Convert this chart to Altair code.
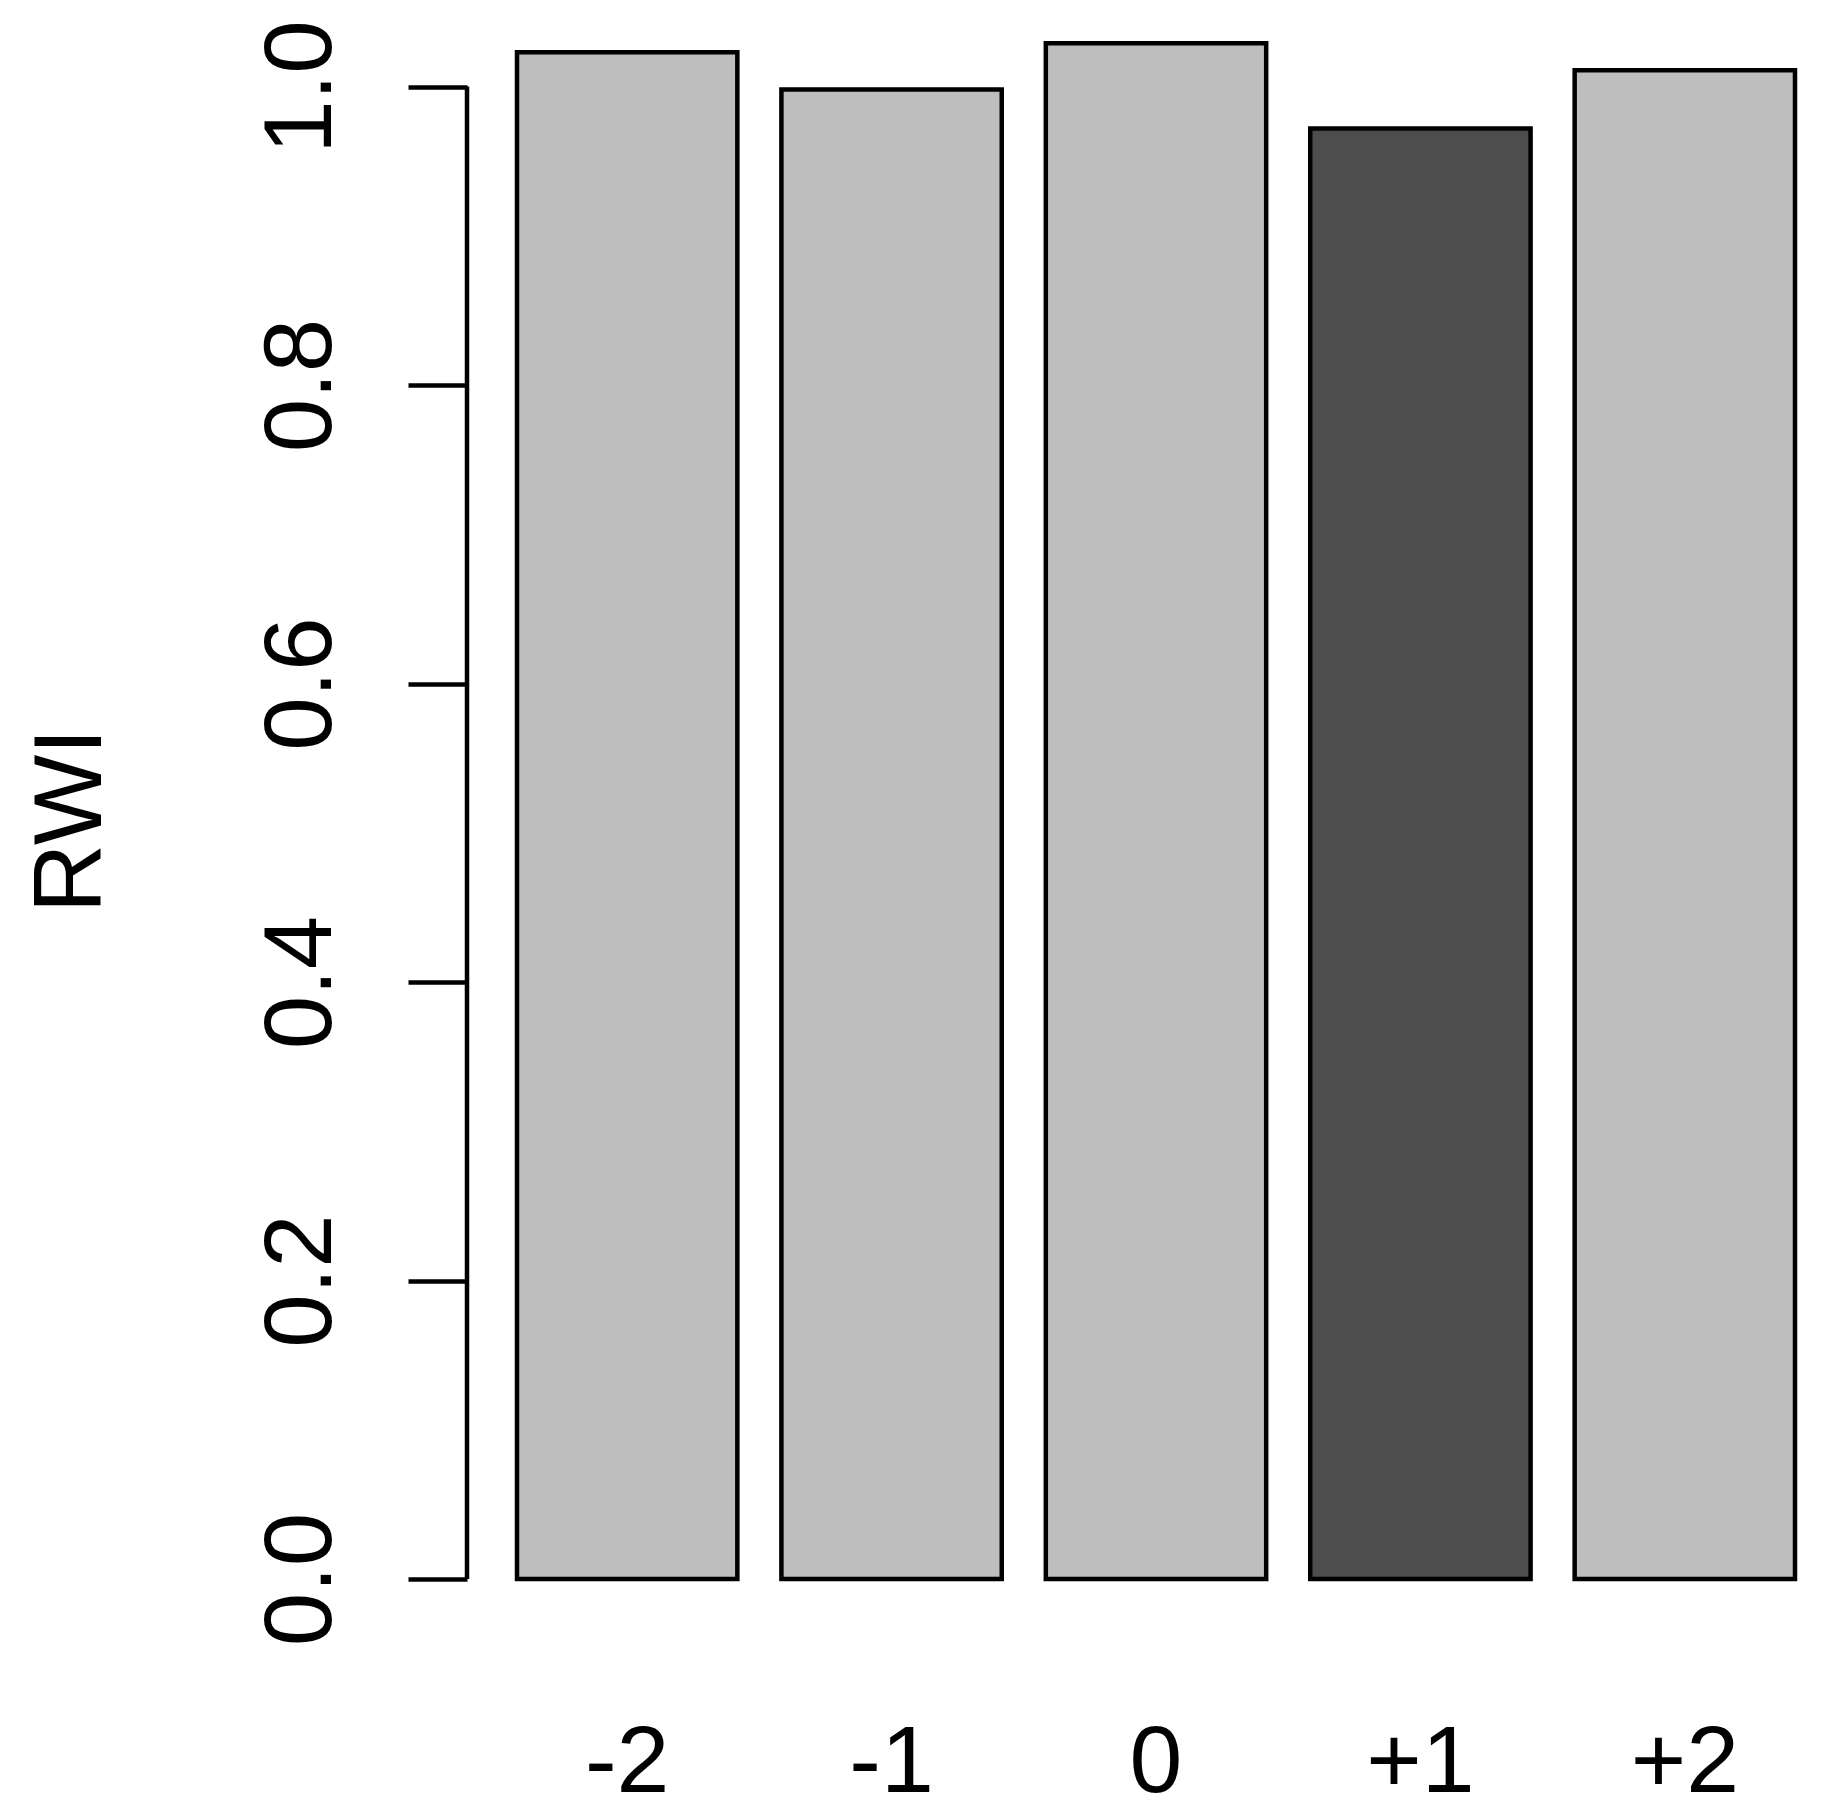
import altair as alt
import pandas as pd

# Data
lags = ["-2", "-1", "0", "+1", "+2"]
rwi = [1.023, 0.998, 1.029, 0.972, 1.011]
fills = ["#BEBEBE", "#BEBEBE", "#BEBEBE", "#4D4D4D", "#BEBEBE"]
y_ticks = [0.0, 0.2, 0.4, 0.6, 0.8, 1.0]

df = pd.DataFrame({"lag": lags, "rwi": rwi, "fill": fills})
axis_df = pd.DataFrame({"rwi": [0.0], "rwi2": [1.0]})

FONT = "Liberation Sans"
LW = 4.5

y_scale = alt.Scale(domain=[0, 1.05], nice=False, zero=True)

bars = alt.Chart(df).mark_bar(
    stroke="black", strokeWidth=LW, strokeJoin="miter"
).encode(
    x=alt.X(
        "lag:N",
        sort=lags,
        scale=alt.Scale(paddingInner=0.2 / 1.2, paddingOuter=0),
        axis=alt.Axis(
            title=None,
            domain=False,
            ticks=False,
            tickSize=0,
            labelAngle=0,
            labelFont=FONT,
            labelFontSize=95,
            labelColor="black",
            labelBaseline="alphabetic",
            labelPadding=212,
        ),
    ),
    y=alt.Y(
        "rwi:Q",
        scale=y_scale,
        axis=alt.Axis(
            values=y_ticks,
            format=".1f",
            domain=False,
            grid=False,
            offset=50,
            tickSize=59,
            tickWidth=LW,
            tickColor="black",
            labelAngle=270,
            labelAlign="center",
            labelBaseline="alphabetic",
            labelPadding=78,
            labelFont=FONT,
            labelFontSize=96,
            labelColor="black",
            labelFlush=False,
            labelOverlap=False,
            title="RWI",
            titleFont=FONT,
            titleFontSize=96,
            titleFontWeight="normal",
            titleColor="black",
            titleAngle=270,
            titleAlign="center",
            titleBaseline="alphabetic",
            titleX=-367,
            titleY=808,
        ),
    ),
    fill=alt.Fill("fill:N", scale=None),
)

axis_line = alt.Chart(axis_df).mark_rule(color="black", strokeWidth=LW).encode(
    x=alt.value(-50),
    y=alt.Y("rwi:Q", scale=y_scale),
    y2="rwi2:Q",
)

chart = alt.layer(bars, axis_line).properties(
    width=1278,
    height=1567,
    background="white",
    autosize=alt.AutoSizeParams(type="none"),
    padding={"left": 509, "top": 4, "right": 10, "bottom": 232},
).configure_view(stroke=None, strokeWidth=0)

chart.save("out.html", embed_options={"renderer": "svg", "actions": False})
